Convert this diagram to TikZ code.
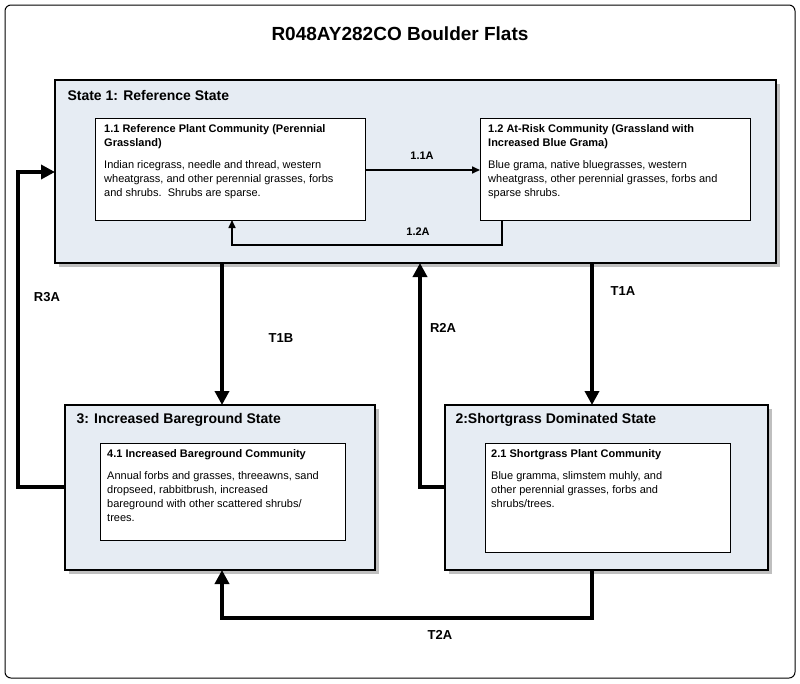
\documentclass[tikz,border=0pt]{standalone}
\usepackage{fontspec}
\setmainfont{Liberation Sans}
\usetikzlibrary{arrows.meta}
\begin{document}
\begin{tikzpicture}[x=1pt,y=-1pt,
 state/.style={draw=black,line width=1.2pt,fill=stfill},
 comm/.style={draw=black,line width=0.6pt,fill=white},
 ctext/.style={anchor=north west,align=left,font=\fontsize{11}{14}\selectfont,inner sep=0pt},
 big/.style={line width=4.5pt,-{Triangle[length=14pt,width=14pt]}},
 small/.style={line width=1.6pt,-{Triangle[length=8pt,width=7pt]}},
 lab/.style={font=\bfseries\fontsize{13}{15}\selectfont}]
\definecolor{stfill}{HTML}{E6ECF3}
\useasboundingbox (0,0) rectangle (800,683);
\draw[line width=1pt,rounded corners=6pt] (5,5) rectangle (795,678);
\node[font=\bfseries\fontsize{19}{21}\selectfont] (title) at (400,34) {R048AY282CO Boulder Flats};
% shadows
\fill[gray!50] (59,84) rectangle (780,267);
\fill[gray!50] (69,409) rectangle (379,574);
\fill[gray!50] (449,409) rectangle (772,574);
\draw[state] (55,80) rectangle (776,263);
\node[lab,anchor=west,font=\bfseries\fontsize{14}{16}\selectfont] (s1) at (64,95) {State 1: Reference State};
\draw[comm] (95,118) rectangle (365,220);
\node[ctext] (c11) at (104,124) {\textbf{1.1 Reference Plant Community (Perennial}\\\textbf{Grassland)}\\[8pt]Indian ricegrass, needle and thread, western\\wheatgrass, and other perennial grasses, forbs\\and shrubs.\ \ Shrubs are sparse.};
\draw[comm] (480,118) rectangle (750,220);
\node[ctext] (c12) at (488,124) {\textbf{1.2 At-Risk Community (Grassland with}\\\textbf{Increased Blue Grama)}\\[8pt]Blue grama, native bluegrasses, western\\wheatgrass, other perennial grasses, forbs and\\sparse shrubs.};
\draw[state] (65,405) rectangle (375,570);
\node[lab,anchor=west,font=\bfseries\fontsize{14}{16}\selectfont] (s3) at (73,420) {3: Increased Bareground State};
\draw[comm] (100,443) rectangle (345,540);
\node[ctext] (c41) at (107,449) {\textbf{4.1 Increased Bareground Community}\\[8pt]Annual forbs and grasses, threeawns, sand\\dropseed, rabbitbrush, increased\\bareground with other scattered shrubs/\\trees.};
\draw[state] (445,405) rectangle (768,570);
\node[lab,anchor=west,font=\bfseries\fontsize{14}{16}\selectfont] (s2) at (452,420) {2:Shortgrass Dominated State};
\draw[comm] (485,443) rectangle (730,552);
\node[ctext] (c21) at (491,449) {\textbf{2.1 Shortgrass Plant Community}\\[8pt]Blue gramma, slimstem muhly, and\\other perennial grasses, forbs and\\shrubs/trees.};
% arrows
\draw[small] (365,170) -- (480,170);
\node[lab,font=\bfseries\fontsize{11}{12}\selectfont] (l11) at (422,156) {1.1A};
\draw[small] (502,220) -- (502,245) -- (232,245) -- (232,220);
\node[lab,font=\bfseries\fontsize{11}{12}\selectfont] (l12) at (418,232) {1.2A};
\draw[big] (222,263) -- (222,405);
\node[lab] (t1b) at (281,338) {T1B};
\draw[big] (592,263) -- (592,405);
\node[lab] (t1a) at (623,291) {T1A};
\draw[big] (445,487) -- (420,487) -- (420,263);
\node[lab] (r2a) at (443,328) {R2A};
\draw[big] (65,487) -- (18,487) -- (18,172) -- (55,172);
\node[lab] (r3a) at (47,297) {R3A};
\draw[big] (592,570) -- (592,618) -- (222,618) -- (222,570);
\node[lab] (t2a) at (440,635) {T2A};
\end{tikzpicture}
\end{document}
